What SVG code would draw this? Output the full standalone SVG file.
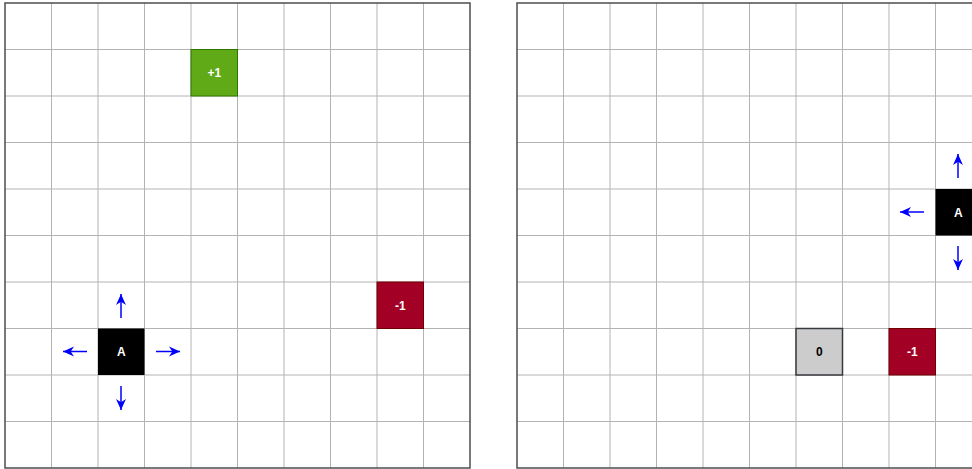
<svg xmlns="http://www.w3.org/2000/svg" width="972" height="469" viewBox="0 0 972 469">
  <style>
    .grid { stroke: #b3b3b3; stroke-width: 1; fill: none; }
    .border { stroke: #4d4d4d; stroke-width: 1.5; fill: none; }
    .lbl { font-family: "Liberation Sans", Arial, sans-serif; font-size: 12px; font-weight: bold; text-anchor: middle; dominant-baseline: central; }
    .arr { stroke: #0000ff; stroke-width: 1.5; fill: none; marker-end: url(#ah); }
  </style>
  <defs>
    <marker id="ah" viewBox="0 0 10 10" refX="10" refY="5" markerWidth="11" markerHeight="11" markerUnits="userSpaceOnUse" orient="auto">
      <path d="M0,0.5 L10,5 L0,9.5 L3,5 Z" fill="#0000ff"/>
    </marker>
  </defs>
  <rect width="972" height="469" fill="#ffffff"/>

  <!-- left grid -->
  <g id="grid-left">
    <path class="grid" d="M51.5,3 V468 M98,3 V468 M144.5,3 V468 M191,3 V468 M237.5,3 V468 M284,3 V468 M330.5,3 V468 M377,3 V468 M423.5,3 V468
      M5,49.5 H470 M5,96 H470 M5,142.5 H470 M5,189 H470 M5,235.5 H470 M5,282 H470 M5,328.5 H470 M5,375 H470 M5,421.5 H470"/>
    <rect class="border" x="5" y="3" width="465" height="465"/>
  </g>

  <!-- right grid -->
  <g id="grid-right">
    <path class="grid" d="M563.5,3 V468 M610,3 V468 M656.5,3 V468 M703,3 V468 M749.5,3 V468 M796,3 V468 M842.5,3 V468 M889,3 V468 M935.5,3 V468
      M517,49.5 H982 M517,96 H982 M517,142.5 H982 M517,189 H982 M517,235.5 H982 M517,282 H982 M517,328.5 H982 M517,375 H982 M517,421.5 H982"/>
    <rect class="border" x="517" y="3" width="465" height="465"/>
  </g>

  <!-- left grid nodes -->
  <g id="reward-plus">
    <rect x="191" y="49.5" width="46.5" height="46.5" fill="#60a917" stroke="#2d7600" stroke-width="1"/>
    <text class="lbl" x="214.25" y="73" fill="#ffffff">+1</text>
  </g>
  <g id="penalty-left">
    <rect x="377" y="282" width="46.5" height="46.5" fill="#a20025" stroke="#6f0000" stroke-width="1"/>
    <text class="lbl" x="400.25" y="305.5" fill="#ffffff">-1</text>
  </g>
  <g id="agent-left">
    <rect x="98" y="328.5" width="46.5" height="46.5" fill="#000000"/>
    <text class="lbl" x="121.25" y="352" fill="#ffffff">A</text>
  </g>

  <!-- right grid nodes -->
  <g id="neutral-zero">
    <rect x="796" y="328.5" width="46.5" height="46.5" fill="#cccccc" stroke="#36393d" stroke-width="1.5"/>
    <text class="lbl" x="819.25" y="352" fill="#000000">0</text>
  </g>
  <g id="penalty-right">
    <rect x="889" y="328.5" width="46.5" height="46.5" fill="#a20025" stroke="#6f0000" stroke-width="1"/>
    <text class="lbl" x="912.25" y="352" fill="#ffffff">-1</text>
  </g>
  <g id="agent-right">
    <rect x="935.5" y="189" width="46.5" height="46.5" fill="#000000"/>
    <text class="lbl" x="958.25" y="212.5" fill="#ffffff">A</text>
  </g>

  <!-- connectors -->
  <g id="connectors">
    <line class="arr" x1="121" y1="318" x2="121" y2="294"/>
    <line class="arr" x1="121" y1="386" x2="121" y2="410"/>
    <line class="arr" x1="87" y1="351.5" x2="63" y2="351.5"/>
    <line class="arr" x1="156" y1="351.5" x2="180" y2="351.5"/>
    <line class="arr" x1="958" y1="178" x2="958" y2="154"/>
    <line class="arr" x1="958" y1="246" x2="958" y2="270"/>
    <line class="arr" x1="924" y1="212" x2="900" y2="212"/>
  </g>
</svg>
